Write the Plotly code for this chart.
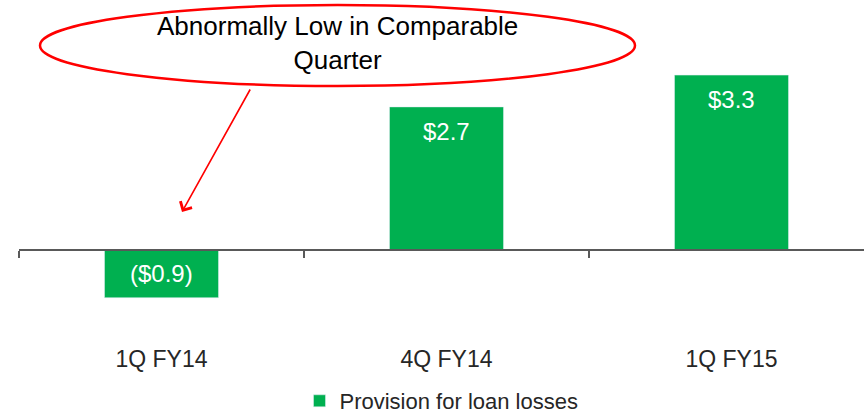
import plotly.graph_objects as go

categories = ["1Q FY14", "4Q FY14", "1Q FY15"]
values = [-0.9, 2.7, 3.3]
bar_labels = ["($0.9)", "$2.7", "$3.3"]
series_name = "Provision for loan losses"
callout_text = "Abnormally Low in Comparable<br>Quarter"

W, H = 864, 415
ML, MR, MT = 19, 0, 0
PH = 342                      # plot height in px
MB = H - MT - PH
PW = W - ML - MR
PX_PER_UNIT = 53.0
ZERO_PX = 250
ymax = (ZERO_PX - MT) / PX_PER_UNIT
ymin = -(MT + PH - ZERO_PX) / PX_PER_UNIT
cat_px = 285.0
xmin = -0.5
xmax = xmin + PW / cat_px

def px(p):  # pixel x -> paper
    return (p - ML) / PW

def py(p):  # pixel y -> paper
    return (MT + PH - p) / PH

green = "#00B050"
font_family = "Liberation Sans, Arial, sans-serif"

fig = go.Figure()
fig.add_trace(go.Bar(
    x=categories, y=values, name=series_name, marker_color=green,
    width=0.4, showlegend=True,
))
# overlay trace on free axis at zero for axis line & ticks
fig.add_trace(go.Bar(x=categories, y=[0, 0, 0], xaxis="x2", showlegend=False,
                     hoverinfo="skip", marker_color="rgba(0,0,0,0)"))

annotations = []
for c, v, t in zip(categories, values, bar_labels):
    if v >= 0:
        annotations.append(dict(x=c, y=v, text=t, showarrow=False, yanchor="top",
                                yshift=-9, font=dict(color="white", size=24, family=font_family)))
    else:
        annotations.append(dict(x=c, y=v / 2, text=t, showarrow=False, yanchor="middle",
                                font=dict(color="white", size=24, family=font_family)))

annotations.append(dict(xref="paper", yref="paper", x=px(337), y=py(43), text=callout_text,
                        showarrow=False, xanchor="center", yanchor="middle",
                        font=dict(color="black", size=26, family=font_family)))
annotations.append(dict(xref="paper", yref="paper", x=px(182), y=py(212), text="",
                        showarrow=True, ax=69, ay=-124, arrowhead=4, arrowsize=1.6,
                        arrowwidth=1.6, arrowcolor="#FF0000"))

fig.update_layout(
    width=W, height=H,
    margin=dict(l=ML, r=MR, t=MT, b=MB, autoexpand=False),
    plot_bgcolor="white", paper_bgcolor="white",
    font=dict(family=font_family, color="#262626", size=16),
    xaxis=dict(range=[xmin, xmax], showline=False, ticks="", showgrid=False,
               tickfont=dict(size=23, color="#262626"), ticklabelstandoff=1,
               automargin=False),
    xaxis2=dict(range=[xmin, xmax], overlaying="x", anchor="free",
                position=(0 - ymin) / (ymax - ymin), showline=True, linecolor="#595959",
                linewidth=1.5, ticks="outside", ticklen=7, tickcolor="#595959",
                tickwidth=1.5, tickson="boundaries", showticklabels=False, showgrid=False,
                side="bottom", automargin=False),
    yaxis=dict(range=[ymin, ymax], visible=False, showgrid=False, zeroline=False,
               automargin=False),
    legend=dict(orientation="h", x=0.5, xanchor="center", y=py(401), yanchor="middle",
                font=dict(size=22, color="#262626"), itemwidth=30),
    shapes=[dict(type="circle", xref="paper", yref="paper",
                 x0=px(40), x1=px(635), y0=py(86), y1=py(5),
                 line=dict(color="#FF0000", width=2.5))],
    annotations=annotations,
    bargap=0.6,
)

fig.write_html("out.html", config={"displayModeBar": False},
               post_script="document.body.style.margin='0';document.body.style.overflow='hidden';")
